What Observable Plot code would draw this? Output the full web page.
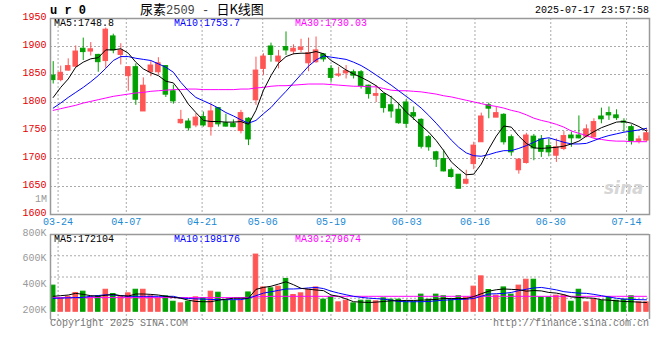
<!DOCTYPE html>
<html><head><meta charset="utf-8">
<script src="https://cdn.jsdelivr.net/npm/d3@7"></script>
<script src="https://cdn.jsdelivr.net/npm/@observablehq/plot@0.6"></script>
<style>
html,body{margin:0;padding:0;background:#fff;}
#wrap{position:relative;width:660px;height:360px;overflow:hidden;font-family:"Liberation Mono","DejaVu Sans Mono",monospace;font-size:10px;}
.t{position:absolute;white-space:nowrap;line-height:1;}
.plot{position:absolute;left:0;}
</style></head><body><div id="wrap"></div>
<script>
// ---------- data ----------
const dates = ["03-21","03-24","03-25","03-26","03-27","03-28","03-31","04-01","04-02","04-03",
"04-07","04-08","04-09","04-10","04-11","04-14","04-15","04-16","04-17","04-18",
"04-21","04-22","04-23","04-24","04-25","04-28","04-29","04-30","05-06","05-07",
"05-08","05-09","05-12","05-13","05-14","05-15","05-16","05-19","05-20","05-21",
"05-22","05-23","05-26","05-27","05-28","05-29","05-30","06-03","06-04","06-05",
"06-06","06-09","06-10","06-11","06-12","06-13","06-16","06-17","06-18","06-19",
"06-20","06-23","06-24","06-25","06-26","06-27","06-30","07-01","07-02","07-03",
"07-04","07-07","07-08","07-09","07-10","07-11","07-14","07-15","07-16","07-17"];
const open  = [1848,1840,1857,1864,1896,1891,1885,1874,1918,1885,1847,1863,1784,1854,1854,1865,1820,1763,1766,1759,
1774,1756,1790,1763,1762,1749,1771,1804,1860,1900,1873,1899,1891,1894,1870,1872,1886,1860,1848,1852,
1854,1854,1830,1812,1815,1795,1787,1800,1781,1769,1738,1711,1699,1679,1671,1655,1690,1729,1795,1773,
1778,1738,1679,1692,1739,1734,1722,1705,1717,1741,1741,1739,1738,1775,1781,1777,1766,1756,1730,1732];
const high  = [1873,1865,1878,1901,1915,1907,1886,1933,1922,1905,1864,1869,1844,1873,1880,1866,1831,1786,1771,1780,
1783,1797,1791,1779,1769,1786,1773,1881,1887,1906,1893,1926,1903,1913,1915,1917,1887,1866,1863,1866,
1858,1857,1831,1830,1816,1811,1798,1805,1792,1771,1741,1713,1715,1683,1671,1679,1729,1781,1799,1792,
1780,1742,1700,1745,1743,1741,1735,1735,1748,1747,1776,1760,1771,1790,1792,1787,1771,1760,1740,1753];
const low   = [1833,1837,1856,1863,1875,1883,1854,1861,1887,1867,1820,1795,1784,1846,1849,1809,1797,1761,1749,1755,
1756,1740,1756,1756,1755,1744,1723,1795,1848,1872,1860,1884,1885,1889,1855,1870,1872,1836,1845,1842,
1842,1824,1806,1800,1781,1772,1761,1754,1768,1717,1713,1684,1676,1665,1646,1653,1680,1729,1771,1773,
1724,1704,1672,1690,1696,1702,1703,1693,1714,1720,1735,1737,1736,1762,1768,1768,1747,1724,1726,1730];
const close = [1840,1853,1865,1891,1890,1895,1872,1930,1893,1893,1863,1805,1830,1866,1870,1814,1802,1769,1754,1773,
1759,1784,1761,1757,1756,1781,1734,1857,1882,1885,1882,1893,1896,1898,1888,1893,1877,1844,1850,1856,
1848,1829,1815,1815,1790,1784,1763,1762,1775,1721,1720,1698,1677,1667,1646,1662,1723,1775,1789,1781,
1729,1711,1698,1741,1718,1712,1711,1720,1740,1736,1736,1752,1765,1770,1777,1772,1764,1731,1734,1745];
const ma5   = [1809,1827,1842,1863,1872,1878,1880,1894,1894,1896,1888,1872,1860,1853,1848,1838,1835,1818,1797,1782,
1768,1766,1766,1765,1765,1766,1761,1786,1822,1848,1870,1882,1887,1888,1888,1891,1887,1875,1867,1858,
1851,1845,1838,1830,1818,1810,1798,1783,1771,1759,1747,1732,1714,1694,1682,1671,1672,1690,1717,1740,
1758,1756,1740,1727,1719,1718,1719,1720,1722,1726,1731,1740,1748,1755,1760,1765,1766,1763,1757,1749];
const ma10  = [1790,1799,1809,1818,1827,1837,1848,1861,1875,1882,1882,1879,1877,1875,1869,1863,1854,1836,1821,1809,
1803,1797,1790,1782,1776,1769,1763,1768,1780,1791,1806,1820,1835,1850,1865,1876,1883,1881,1879,1877,
1872,1866,1858,1849,1840,1831,1821,1811,1801,1790,1777,1763,1748,1733,1720,1710,1705,1704,1707,1711,
1714,1714,1718,1723,1729,1735,1737,1733,1729,1726,1726,1727,1732,1737,1741,1744,1747,1749,1751,1754];
const ma30  = [1786,1789,1792,1795,1799,1802,1805,1808,1811,1813,1815,1817,1818,1820,1821,1822,1823,1823,1824,1824,
1823,1823,1823,1823,1823,1824,1824,1826,1827,1829,1830,1830,1831,1832,1833,1833,1833,1832,1831,1830,
1829,1829,1828,1828,1825,1822,1821,1821,1820,1819,1817,1815,1812,1810,1807,1804,1801,1798,1795,1793,
1790,1786,1783,1778,1772,1768,1765,1761,1756,1749,1745,1741,1736,1734,1732,1731,1731,1730,1730,1730];
const volume = [403,304,317,346,356,312,320,371,338,317,343,371,371,320,304,320,278,265,278,312,
307,356,348,286,286,286,350,644,389,382,395,455,330,343,371,389,294,312,273,286,
265,286,286,281,304,294,294,278,278,333,294,333,320,294,320,311,395,475,369,325,
389,333,403,449,449,311,311,325,325,278,371,273,294,286,311,286,294,320,273,273];
const volMa5 = [320,325,330,343,335,325,320,328,335,325,322,338,338,335,330,320,312,305,290,280,
278,278,290,298,305,305,305,374,389,398,415,433,410,382,375,369,364,330,320,300,
278,275,272,275,280,285,286,288,288,290,293,296,303,303,303,303,318,340,360,371,
377,374,371,360,365,362,350,345,333,315,311,308,305,293,290,285,280,278,275,272];
const volMa10 = [304,306,308,310,312,320,326,332,330,325,320,320,320,320,320,320,320,306,303,300,
298,296,294,294,294,294,305,325,345,355,366,377,377,380,385,389,380,360,345,332,
320,312,306,302,298,290,280,278,278,278,280,285,290,293,296,298,303,320,338,340,
343,350,364,375,385,389,380,370,356,350,345,343,335,325,315,305,298,296,294,293];
const volMa30 = [310,310,310,310,310,310,310,310,310,310,310,310,310,310,310,310,310,310,310,310,
310,310,310,310,310,310,312,316,318,320,320,320,320,320,320,320,320,320,320,320,
320,320,320,320,320,320,320,320,320,320,320,320,320,320,320,320,320,320,320,320,
320,320,320,320,320,320,320,320,320,320,320,320,320,320,320,320,320,320,320,320];
const tickDates = ["03-24","04-07","04-21","05-06","05-19","06-03","06-16","06-30","07-14"];
const priceTicks = [1600,1650,1700,1750,1800,1850,1900,1950];
const volTicks = [200,400,600,800];
const volDomain = [140,800];
const legendPrice = ["MA5:1748.8","MA10:1753.7","MA30:1730.03"];
const legendVol = ["MA5:172104","MA10:198176","MA30:279674"];

// ---------- build ----------
const RED = "#ff5555", GREEN = "#00a000";
const GRID = {stroke:"#aaaaaa", strokeDasharray:"2,2", strokeWidth:1};
const candles = dates.map((d,i)=>({i, date:d, open:open[i], high:high[i], low:low[i], close:close[i], vol:volume[i],
  col: close[i] >= open[i] ? RED : GREEN}));
const xDomain = [-0.36, 79.4];
// Sina spaces its date grid slightly differently from the candles
const gridIdx = tickDates.map(t => dates.indexOf(t) * 1.0093 - 0.36);
const line = (arr, color) => Plot.line(arr, {x:(d,i)=>i, y:d=>d, stroke:color, strokeWidth:1});
const font = {fontFamily:"Liberation Mono, DejaVu Sans Mono, monospace", fontSize:"10px", background:"transparent", overflow:"visible"};

const pricePlot = Plot.plot({
  width:660, height:228, marginTop:18, marginBottom:14, marginLeft:50, marginRight:11,
  style: font,
  x:{domain:xDomain, axis:null, label:null},
  y:{domain:[priceTicks[0], priceTicks[priceTicks.length-1]], axis:null, label:null},
  marks:[
    Plot.ruleY(priceTicks.slice(1,-1), GRID),
    Plot.ruleX(gridIdx, GRID),
    Plot.axisY(priceTicks, {tickSize:0, tickPadding:4, fill:"#e60000", fontSize:10, dy:-2, label:null, tickFormat:d=>String(d)}),
    Plot.axisX(gridIdx, {tickSize:0, tickPadding:3, fill:"#1a8ad4", fontSize:10, label:null, tickFormat:(d,i)=>tickDates[i]}),
    Plot.ruleX(candles, {x:"i", y1:"low", y2:"high", stroke:"col", strokeWidth:1}),
    Plot.rect(candles, {x1:d=>d.i-0.3, x2:d=>d.i+0.3, y1:d=>Math.min(d.open,d.close), y2:d=>Math.max(d.open,d.close), fill:"col", stroke:"col", strokeWidth:1}),
    line(ma30, "#ff00ff"),
    line(ma10, "#0000ff"),
    line(ma5, "#000000"),
    Plot.frame({stroke:"#999999", strokeWidth:1.5})
  ]
});

const volPlot = Plot.plot({
  width:660, height:100, marginTop:6, marginBottom:9, marginLeft:50, marginRight:11,
  style: font,
  x:{domain:xDomain, axis:null, label:null},
  y:{domain:volDomain, axis:null, label:null},
  marks:[
    Plot.ruleY(d3.range(1,4).map(k => volDomain[0] + (volDomain[1]-volDomain[0])*k/4), GRID),
    Plot.ruleY([volDomain[0]], GRID),
    Plot.ruleX(gridIdx, GRID),
    Plot.axisY(volTicks, {tickSize:0, tickPadding:4, fill:"#999999", fontSize:10, dy:-2, label:null, tickFormat:d=>d+"K"}),
    Plot.rect(candles, {x1:d=>d.i-0.3, x2:d=>d.i+0.3, y1:volTicks[0], y2:"vol", fill:"col", stroke:"col", strokeWidth:1}),
    line(volMa30, "#ff00ff"),
    line(volMa10, "#0000ff"),
    line(volMa5, "#000000"),
    Plot.ruleY([volDomain[1]], {stroke:"#999999", strokeWidth:1.5}),
    Plot.ruleX([xDomain[0], xDomain[1]], {stroke:"#999999", strokeWidth:1.5})
  ]
});

const wrap = document.getElementById("wrap");
pricePlot.classList.add("plot"); pricePlot.style.top = "0px";
volPlot.classList.add("plot"); volPlot.style.top = "228px";
wrap.appendChild(pricePlot);
wrap.appendChild(volPlot);

function txt(s, css){ const e=document.createElement("div"); e.className="t"; e.textContent=s; Object.assign(e.style, css); wrap.appendChild(e); return e; }
// header
txt("u r 0", {left:"50px", top:"5px", fontSize:"12px", fontWeight:"bold", color:"#000"});
const title = document.createElement("div"); title.className="t";
Object.assign(title.style,{left:"140px", top:"2px", fontSize:"13px", color:"#000"});
title.innerHTML = '<span style="font-family:Noto Sans CJK SC">尿素</span><span style="font-family:Liberation Mono;font-size:12px;color:#444">2509 - </span><span style="font-family:Noto Sans CJK SC">日K线图</span>';
wrap.appendChild(title);
txt("2025-07-17 23:57:58", {right:"11px", top:"6px", color:"#000"});
// legends
const legColors = ["#000000","#0000ff","#ff00ff"], legX = [54,174,295];
legendPrice.forEach((s,k)=>txt(s,{left:legX[k]+"px", top:"19px", color:legColors[k]}));
legendVol.forEach((s,k)=>txt(s,{left:legX[k]+"px", top:"235px", color:legColors[k]}));
txt("1M", {left:"35px", top:"195px", color:"#999"});
// watermark
txt("sina", {left:"604px", top:"180px", fontSize:"17px", fontWeight:"bold", fontStyle:"italic", color:"#d6d6d6", fontFamily:"DejaVu Sans"});
// footer
txt("Copyright 2025 SINA.COM", {left:"50px", top:"319px", color:"#777"});
txt("http://finance.sina.com.cn", {right:"11px", top:"319px", color:"#777"});
</script></body></html>
